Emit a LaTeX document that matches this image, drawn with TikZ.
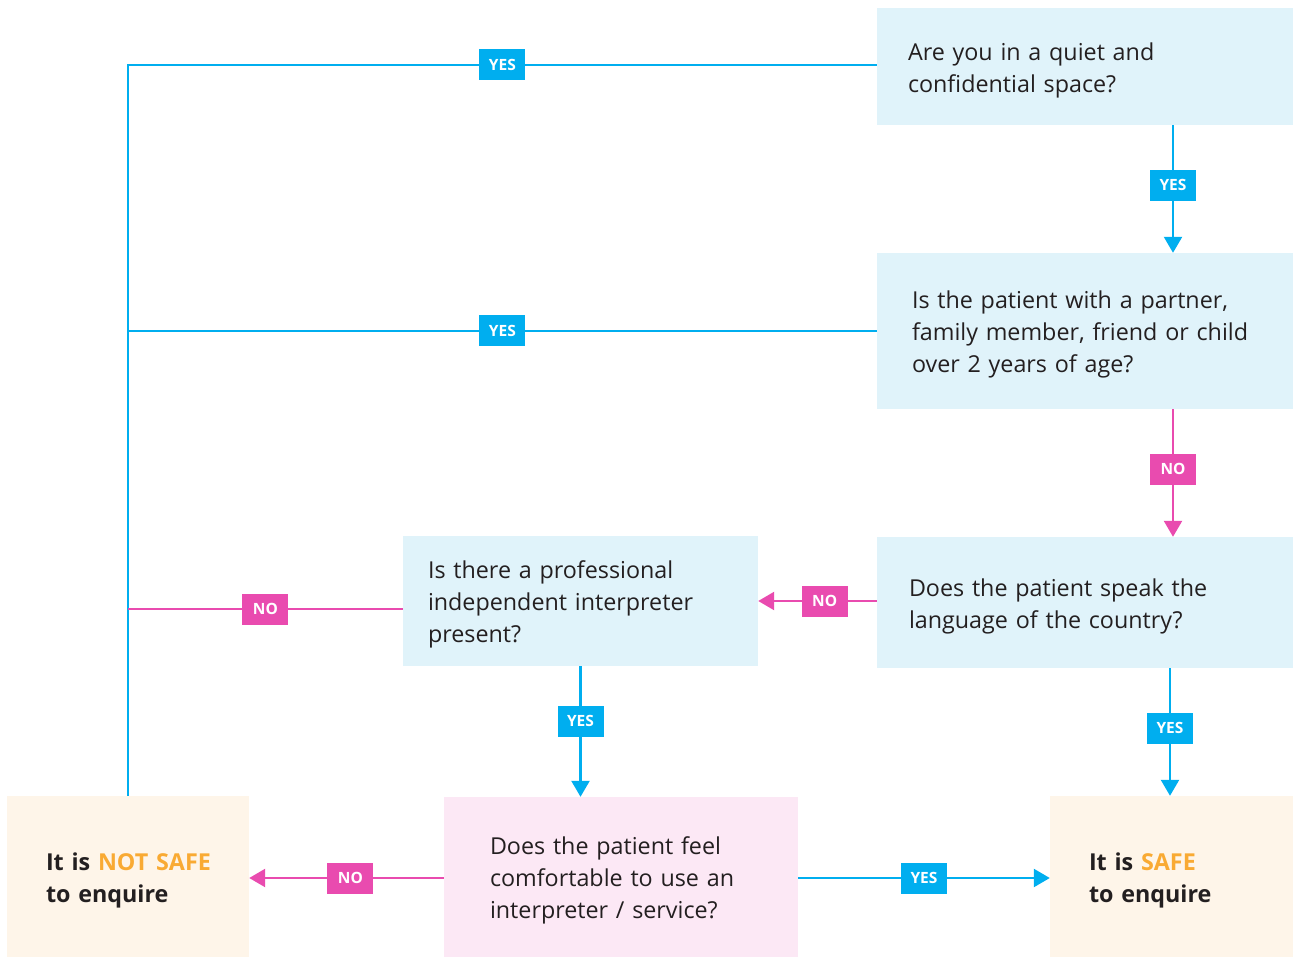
\documentclass[tikz,border=0pt]{standalone}
\usepackage{fontspec}
\setmainfont{Open Sans}
\usepackage{xcolor}
\definecolor{cyan00}{HTML}{00AEEF}
\definecolor{pink00}{HTML}{E94BAF}
\definecolor{ora00}{HTML}{F9AA33}
\definecolor{txt00}{HTML}{231F20}
\definecolor{cyanbg}{HTML}{E0F3FA}
\definecolor{pinkbg}{HTML}{FCE8F5}
\definecolor{creambg}{HTML}{FEF5E9}
\usetikzlibrary{arrows.meta}
\tikzstyle{question} = [rectangle, inner ysep=0pt, align=left, text=txt00, fill=cyanbg, font=\fontsize{23.3}{32}\selectfont, execute at end node={\vspace*{-7pt}}]
\tikzstyle{answer} = [question, fill=creambg, font=\fontsize{23.3}{32}\selectfont\bfseries]
\tikzstyle{yes_line} = [line width=2.4pt, cyan00, >={Triangle[length=16pt,width=18pt]}]
\tikzstyle{no_line} = [line width=2.4pt, pink00, >={Triangle[length=16pt,width=18pt]}]
\tikzstyle{yes_tag} = [rectangle, fill=cyan00, text=white, minimum width=46pt, minimum height=31pt, inner sep=0pt, font=\fontsize{15.5}{15.5}\selectfont\bfseries]
\tikzstyle{no_tag} = [yes_tag, fill=pink00]

\begin{document}
\begin{tikzpicture}[x=1pt,y=-1pt]
    \useasboundingbox (0,0) rectangle (1293,957);
    % question boxes
    \node (q1)[question, minimum height=117pt, text width=354pt, inner xsep=31pt] at (1085,66.5) {Are you in a quiet and\\confidential space?};
    \node (q2)[question, minimum height=156pt, text width=346pt, inner xsep=35pt] at (1085,331) {Is the patient with a partner,\\family member, friend or child\\over 2 years of age?};
    \node (q3)[question, minimum height=131pt, text width=352pt, inner xsep=32pt] at (1085,602.5) {Does the patient speak the\\language of the country?};
    \node (q4)[question, minimum height=130pt, text width=305pt, inner xsep=25pt] at (580.5,601) {Is there a professional\\independent interpreter\\present?};
    \node (q5)[question, fill=pinkbg, minimum height=160pt, text width=262pt, inner xsep=46pt] at (621,877) {Does the patient feel\\comfortable to use an\\interpreter / service?};
    % outcomes
    \node (unsafe)[answer, minimum height=161pt, text width=164pt, inner xsep=39pt] at (128,876.5) {It~is~\textcolor{ora00}{NOT~SAFE}\\to enquire};
    \node (safe)[answer, minimum height=161pt, text width=165pt, inner xsep=39pt] at (1171.5,876.5) {It is \textcolor{ora00}{SAFE}\\to enquire};
    % connectors
    \draw [yes_line] (unsafe.north) -- (unsafe.north |- 0,65) -- node (t1)[yes_tag]{YES} (q1.west |- 0,65);
    \draw [yes_line] (q2.west) -- node (t2)[yes_tag]{YES} (q2.west -| unsafe.north);
    \draw [no_line] ([yshift=-8pt]q4.west) -- node (t3)[no_tag]{NO} ([yshift=-8pt]q4.west -| unsafe.north);
    \draw [yes_line,->] ([xshift=88pt]q1.south) -- node[pos=0.47] (t4)[yes_tag]{YES} ([xshift=88pt]q2.north);
    \draw [no_line,->] ([xshift=88pt]q2.south) -- node[pos=0.47] (t5)[no_tag]{NO} ([xshift=88pt]q3.north);
    \draw [no_line,->] ([yshift=1.5pt]q3.west) -- node[pos=0.44] (t6)[no_tag]{NO} ([yshift=1.5pt]q3.west -| q4.east);
    \draw [yes_line,->] ([xshift=85pt]q3.south) -- node[pos=0.47] (t7)[yes_tag]{YES} ([xshift=85pt]q3.south |- safe.north);
    \draw [yes_line,->] (q4.south) -- node[pos=0.42] (t8)[yes_tag]{YES} (q4.south |- q5.north);
    \draw [no_line,->] ([yshift=-1pt]q5.west) -- node[pos=0.48] (t9)[no_tag]{NO} ([yshift=-1pt]q5.west -| unsafe.east);
    \draw [yes_line,->] ([yshift=-1pt]q5.east) -- node (t10)[yes_tag]{YES} ([yshift=-1pt]q5.east -| safe.west);
\end{tikzpicture}
\end{document}
